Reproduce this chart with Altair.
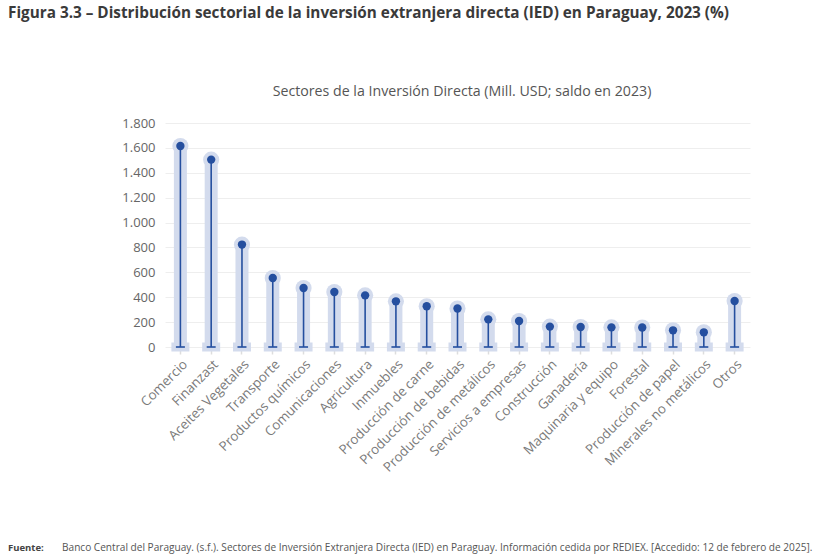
import altair as alt
import pandas as pd

# Sectores de la inversión extranjera directa, saldo 2023 (Mill. USD)
sectores = [
    "Comercio", "Finanzast", "Aceites Vegetales", "Transporte", "Productos químicos",
    "Comunicaciones", "Agricultura", "Inmuebles", "Producción de carne",
    "Producción de bebidas", "Producción de metálicos", "Servicios a empresas",
    "Construcción", "Ganadería", "Maquinaria y equipo", "Forestal",
    "Producción de papel", "Minerales no metálicos", "Otros",
]
saldos = [1615, 1506, 823, 554, 474, 442, 415, 367, 327, 309, 222, 209,
          164, 161, 158, 157, 134, 118, 370]
marcas_y = [0, 200, 400, 600, 800, 1000, 1200, 1400, 1600, 1800]

titulo = "Figura 3.3 – Distribución sectorial de la inversión extranjera directa (IED) en Paraguay, 2023 (%)"
subtitulo = "Sectores de la Inversión Directa (Mill. USD; saldo en 2023)"
fuente_rotulo = "Fuente:"
fuente_texto = ("Banco Central del Paraguay. (s.f.). Sectores de Inversión Extranjera Directa (IED) "
                "en Paraguay. Información cedida por REDIEX. [Accedido: 12 de febrero de 2025].")

df = pd.DataFrame({"sector": sectores, "saldo": saldos, "base": 0})

CLARO = "#d3dbed"
OSCURO = "#254f9f"
CUERPO = "Open Sans"

x = alt.X(
    "sector:N", sort=None, title=None,
    scale=alt.Scale(paddingInner=0, paddingOuter=0),
    axis=alt.Axis(
        labelAngle=-45, labelColor="#7a7a7a", labelFontSize=13.3, labelFont=CUERPO,
        tickColor="#dddddd", tickSize=7, tickWidth=1.5, domain=False,
        labelPadding=3, grid=False, labelOverlap=False,
    ),
)
eje_y = alt.Axis(
    values=marcas_y,
    labelExpr="replace(format(datum.value, ','), ',', '.')",
    labelColor="#666666", labelFontSize=13, labelFont=CUERPO, labelPadding=10,
    ticks=False, domain=False, gridColor="#eeeeee", gridWidth=1,
    labelOverlap=False, labelFlush=False,
)
escala_y = alt.Scale(domain=[0, 1800], nice=False)


def y_campo(campo):
    return alt.Y(f"{campo}:Q", title=None, scale=escala_y, axis=eje_y)


base = alt.Chart(df)

halo_barra = base.mark_bar(color=CLARO, size=13).encode(x=x, y=y_campo("saldo"), y2="base:Q")
halo_base = base.mark_tick(color=CLARO, size=18, thickness=9, opacity=1).encode(x=x, y=y_campo("base"))
halo_punto = base.mark_circle(color=CLARO, size=260, opacity=1).encode(x=x, y=y_campo("saldo"))
linea = base.mark_rule(color=OSCURO, strokeWidth=1.6).encode(x=x, y=y_campo("saldo"), y2="base:Q")
pie = base.mark_tick(color=OSCURO, size=9, thickness=1.6, opacity=1).encode(x=x, y=y_campo("base"))
punto = base.mark_circle(color=OSCURO, size=70, opacity=1).encode(x=x, y=y_campo("saldo"))

notas = pd.DataFrame({"k": [0]})
texto_titulo = alt.Chart(notas).mark_text(
    align="left", baseline="alphabetic", font=CUERPO, fontSize=15.3, fontWeight="bold",
    color="#3a3a3a",
).encode(x=alt.value(-157), y=alt.value(-105), text=alt.value(titulo))
texto_subtitulo = alt.Chart(notas).mark_text(
    align="center", baseline="alphabetic", font=CUERPO, fontSize=14.2, color="#555555",
).encode(x=alt.value(297), y=alt.value(-27), text=alt.value(subtitulo))
texto_fuente_rotulo = alt.Chart(notas).mark_text(
    align="left", baseline="alphabetic", font=CUERPO, fontSize=9.5, fontWeight="bold",
    color="#444444",
).encode(x=alt.value(-157), y=alt.value(428), text=alt.value(fuente_rotulo))
texto_fuente = alt.Chart(notas).mark_text(
    align="left", baseline="alphabetic", font=CUERPO, fontSize=10.1, color="#555555",
).encode(x=alt.value(-103), y=alt.value(428), text=alt.value(fuente_texto))

chart = alt.layer(
    halo_barra, halo_base, halo_punto, linea, pie, punto,
    texto_titulo, texto_subtitulo, texto_fuente_rotulo, texto_fuente,
).properties(
    width=585,
    height=224,
    autosize=alt.AutoSizeParams(type="none"),
    padding={"left": 165, "top": 123, "right": 69, "bottom": 212},
    background="white",
).configure_view(
    strokeWidth=0
)

chart.save("out.html", embed_options={"renderer": "svg", "actions": False})
